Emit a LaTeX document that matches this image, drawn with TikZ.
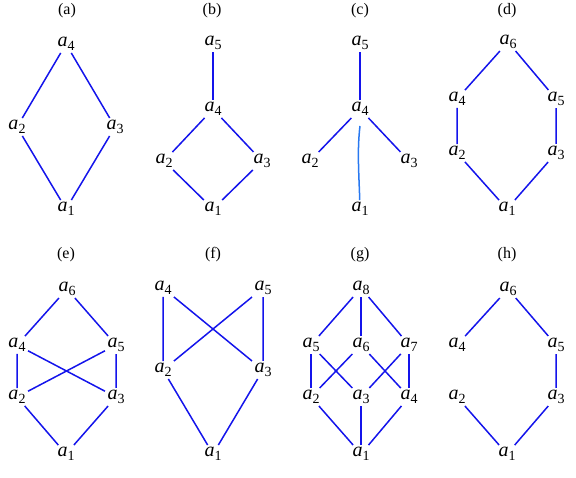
\documentclass[tikz,border=0pt]{standalone}
\usepackage{fontspec}
\setmainfont{Liberation Serif}
\definecolor{lineblue}{RGB}{20,20,235}
\definecolor{paleblue}{RGB}{40,120,240}
\newcommand{\elem}[1]{\textit{a}\raisebox{-3.5pt}{\fontsize{14}{14}\selectfont #1}}

\begin{document}
\begin{tikzpicture}[x=1pt, y=-1pt,
  elem/.style={inner sep=0.5pt, outer sep=2pt, font=\fontsize{20}{20}\selectfont},
  title/.style={font=\fontsize{16}{16}\selectfont},
  link/.style={draw=lineblue, line width=1.5pt}]
\useasboundingbox (0,0) rectangle (576,478);

% (a)
\node[title] (ta) at (67,11) {(a)};
\node[elem] (A4) at (66,44) {\elem{4}};
\node[elem] (A2) at (17,127) {\elem{2}};
\node[elem] (A3) at (115,127) {\elem{3}};
\node[elem] (A1) at (66,209) {\elem{1}};
\draw[link] (A4) -- (A2) -- (A1) -- (A3) -- (A4);

% (b)
\node[title] (tb) at (212,11) {(b)};
\node[elem] (B5) at (213,43) {\elem{5}};
\node[elem] (B4) at (213,109) {\elem{4}};
\node[elem] (B2) at (164,161) {\elem{2}};
\node[elem] (B3) at (262,161) {\elem{3}};
\node[elem] (B1) at (213,209) {\elem{1}};
\draw[link] (B5) -- (B4);
\draw[link] (B4) -- (B2) -- (B1) -- (B3) -- (B4);

% (c)
\node[title] (tc) at (360,11) {(c)};
\node[elem] (C5) at (360,43) {\elem{5}};
\node[elem] (C4) at (360,109) {\elem{4}};
\node[elem] (C2) at (310,161) {\elem{2}};
\node[elem] (C3) at (409,161) {\elem{3}};
\node[elem] (C1) at (360,209) {\elem{1}};
\coordinate (C4b) at (360,126);
\draw[link] (C5) -- (C4);
\draw[link] (C4) -- (C2);
\draw[link] (C4) -- (C3);
\draw[link, draw=paleblue] (C4b) .. controls (357,150) and (359,175) .. (C1);

% (d)
\node[title] (td) at (507,11) {(d)};
\node[elem] (D6) at (508,42) {\elem{6}};
\node[elem] (D4) at (457,99) {\elem{4}};
\node[elem] (D5) at (556,99) {\elem{5}};
\node[elem] (D2) at (457,153) {\elem{2}};
\node[elem] (D3) at (556,153) {\elem{3}};
\node[elem] (D1) at (507,209) {\elem{1}};
\draw[link] (D6) -- (D4) -- (D2) -- (D1) -- (D3) -- (D5) -- (D6);

% (e)
\node[title] (te) at (66,255) {(e)};
\node[elem] (E6) at (67,289) {\elem{6}};
\node[elem] (E4) at (17,345) {\elem{4}};
\node[elem] (E5) at (116,345) {\elem{5}};
\node[elem] (E2) at (17,397) {\elem{2}};
\node[elem] (E3) at (116,397) {\elem{3}};
\node[elem] (E1) at (66,454) {\elem{1}};
\draw[link] (E6) -- (E4) -- (E2) -- (E1) -- (E3) -- (E5) -- (E6);
\draw[link] (E4) -- (E3);
\draw[link] (E5) -- (E2);

% (f)
\node[title] (tf) at (213,255) {(f)};
\node[elem] (F4) at (163,288) {\elem{4}};
\node[elem] (F5) at (263,288) {\elem{5}};
\node[elem] (F2) at (163,370) {\elem{2}};
\node[elem] (F3) at (263,370) {\elem{3}};
\node[elem] (F1) at (213,454) {\elem{1}};
\draw[link] (F4) -- (F2) -- (F1) -- (F3) -- (F5);
\draw[link] (F4) -- (F3);
\draw[link] (F5) -- (F2);

% (g)
\node[title] (tg) at (360,255) {(g)};
\node[elem] (G8) at (361,288) {\elem{8}};
\node[elem] (G5) at (311,345) {\elem{5}};
\node[elem] (G6) at (361,345) {\elem{6}};
\node[elem] (G7) at (409,345) {\elem{7}};
\node[elem] (G2) at (311,397) {\elem{2}};
\node[elem] (G3) at (361,397) {\elem{3}};
\node[elem] (G4) at (409,397) {\elem{4}};
\node[elem] (G1) at (361,454) {\elem{1}};
\draw[link] (G8) -- (G5);
\draw[link] (G8) -- (G6);
\draw[link] (G8) -- (G7);
\draw[link] (G5) -- (G2);
\draw[link] (G5) -- (G3);
\draw[link] (G6) -- (G2);
\draw[link] (G6) -- (G4);
\draw[link] (G7) -- (G3);
\draw[link] (G7) -- (G4);
\draw[link] (G2) -- (G1);
\draw[link] (G3) -- (G1);
\draw[link] (G4) -- (G1);

% (h)
\node[title] (th) at (507,255) {(h)};
\node[elem] (H6) at (508,289) {\elem{6}};
\node[elem] (H4) at (457,345) {\elem{4}};
\node[elem] (H5) at (556,345) {\elem{5}};
\node[elem] (H2) at (457,397) {\elem{2}};
\node[elem] (H3) at (556,397) {\elem{3}};
\node[elem] (H1) at (507,454) {\elem{1}};
\draw[link] (H4) -- (H6) -- (H5) -- (H3) -- (H1) -- (H2);
\end{tikzpicture}
\end{document}
